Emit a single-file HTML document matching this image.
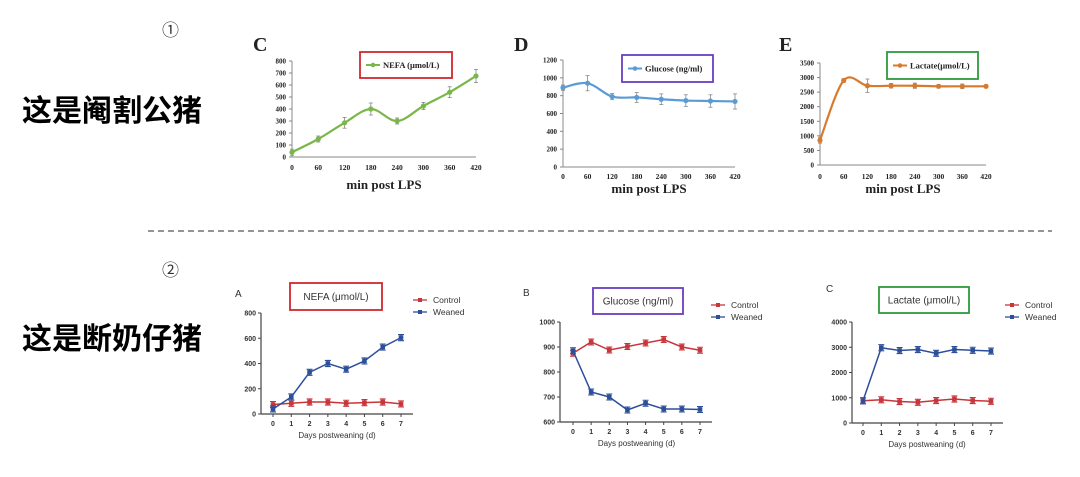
<!DOCTYPE html>
<html><head><meta charset="utf-8"><style>
html,body{margin:0;padding:0;background:#fff;}
body{width:1080px;height:477px;overflow:hidden;position:relative;}
.cn{position:absolute;font-family:"Liberation Sans","Noto Sans CJK SC",sans-serif;font-weight:bold;font-size:30px;line-height:34px;color:#000;}
.num{position:absolute;font-family:"Liberation Sans","Noto Sans CJK SC",sans-serif;font-size:17px;color:#333;}
</style></head><body>
<div class="num" style="left:162px;top:16px">①</div>
<div class="cn" style="left:22px;top:95px">这是阉割公猪</div>
<div class="num" style="left:162px;top:256px">②</div>
<div class="cn" style="left:22px;top:323px">这是断奶仔猪</div>
<svg id="svg" width="1080" height="477" style="position:absolute;left:0;top:0">
<line x1="148" y1="231" x2="1052" y2="231" stroke="#555" stroke-width="1.3" stroke-dasharray="6,4"/>
</svg>
<script>
// Top row data (min post LPS)
const lpsMinutes = [0,60,120,180,240,300,360,420];
const nefaLps = [40,150,285,400,300,425,540,675];
const nefaLpsErr = [25,25,45,50,25,30,45,55];
const glucoseLps = [890,940,790,780,760,745,740,735];
const glucoseLpsErr = [30,85,35,55,60,65,70,85];
const lactateLps = [850,2900,2720,2720,2720,2700,2700,2700];
const lactateLpsErr = [100,60,230,80,90,60,80,50];
const nefaLpsTicks = [0,100,200,300,400,500,600,700,800];
const glucoseLpsTicks = [0,200,400,600,800,1000,1200];
const lactateLpsTicks = [0,500,1000,1500,2000,2500,3000,3500];
// Bottom row data (days postweaning)
const days = [0,1,2,3,4,5,6,7];
const nefaControl = [75,85,95,95,85,90,95,80];
const nefaWeaned = [40,135,330,400,355,420,530,605];
const glucoseControl = [875,920,888,902,916,930,900,887];
const glucoseWeaned = [885,720,700,648,675,652,652,650];
const lactateControl = [880,920,850,820,890,950,890,860];
const lactateWeaned = [880,2980,2870,2910,2760,2910,2880,2850];
const nefaDayTicks = [0,200,400,600,800];
const glucoseDayTicks = [600,700,800,900,1000];
const lactateDayTicks = [0,1000,2000,3000,4000];

const NS='http://www.w3.org/2000/svg';
const svg=document.getElementById('svg');
function mk(tag,attrs,parent){const e=document.createElementNS(NS,tag);for(const k in attrs)e.setAttribute(k,attrs[k]);(parent||svg).appendChild(e);return e;}
function txt(x,y,s,attrs,parent){const t=mk('text',Object.assign({x:x,y:y},attrs),parent);t.textContent=s;return t;}

function lpsChart(name,xs,ys,errs,ticks,color,box){
  const g=mk('g',{});
  
  
  const x0=box.x0,x1=box.x1,yb=box.yb,yt=box.yt,ymax=ticks[ticks.length-1];
  const sx=v=>x0+(v-xs[0])/(xs[xs.length-1]-xs[0])*(x1-x0);
  const sy=v=>yb-v/ymax*(yb-yt);
  const serif={'font-family':'Liberation Serif, serif','font-weight':'bold',fill:'#222'};
  mk('line',{x1:x0,y1:yb,x2:x1,y2:yb,stroke:'#888','stroke-width':1},g);
  mk('line',{x1:x0,y1:yb,x2:x0,y2:yt,stroke:'#888','stroke-width':1},g);
  ticks.forEach(t=>{mk('line',{x1:x0-3,y1:sy(t),x2:x0,y2:sy(t),stroke:'#888'},g);
    const l=txt(x0-6,sy(t)+2.5,String(t),Object.assign({'font-size':7,'text-anchor':'end'},serif),g);
    });
  xs.forEach(v=>{const l=txt(sx(v),box.tl,String(v),Object.assign({'font-size':7.5,'text-anchor':'middle'},serif),g);
    });
  const xt=txt((x0+x1)/2,box.tt,'min post LPS',Object.assign({'font-size':13,'text-anchor':'middle'},serif),g);
  
  const pl=txt(box.lx,box.ly,box.letter,Object.assign({'font-size':20},serif),g);
  
  let d='M'+sx(xs[0])+','+sy(ys[0]);
  for(let i=0;i<xs.length-1;i++){
    const p0=[sx(xs[Math.max(i-1,0)]),sy(ys[Math.max(i-1,0)])],p1=[sx(xs[i]),sy(ys[i])],p2=[sx(xs[i+1]),sy(ys[i+1])],p3=[sx(xs[Math.min(i+2,xs.length-1)]),sy(ys[Math.min(i+2,xs.length-1)])];
    const c1=[p1[0]+(p2[0]-p0[0])/6,p1[1]+(p2[1]-p0[1])/6],c2=[p2[0]-(p3[0]-p1[0])/6,p2[1]-(p3[1]-p1[1])/6];
    d+=' C'+c1+' '+c2+' '+p2;
  }
  const ln=mk('path',{d:d,fill:'none',stroke:color,'stroke-width':2.2},g);
  
  xs.forEach((v,i)=>{
    const x=sx(v);
    mk('line',{x1:x,y1:sy(ys[i]-errs[i]),x2:x,y2:sy(ys[i]+errs[i]),stroke:'#888','stroke-width':0.8},g);
    mk('line',{x1:x-2,y1:sy(ys[i]-errs[i]),x2:x+2,y2:sy(ys[i]-errs[i]),stroke:'#888','stroke-width':0.8},g);
    mk('line',{x1:x-2,y1:sy(ys[i]+errs[i]),x2:x+2,y2:sy(ys[i]+errs[i]),stroke:'#888','stroke-width':0.8},g);
    const c=mk('circle',{cx:x,cy:sy(ys[i]),r:2.6,fill:color},g);
    
  });
  const lb=box.leg;
  const r=mk('rect',{x:lb[0],y:lb[1],width:lb[2],height:lb[3],fill:'#fff',stroke:box.bc,'stroke-width':1.8},g);
  
  const cy=lb[1]+lb[3]/2;
  mk('line',{x1:lb[0]+6,y1:cy,x2:lb[0]+20,y2:cy,stroke:color,'stroke-width':2},g);
  mk('circle',{cx:lb[0]+13,cy:cy,r:2.3,fill:color},g);
  const lt=txt(lb[0]+23,cy+3,box.label,Object.assign({'font-size':8.5},serif),g);
  
}

function dayChart(name,xs,c,w,ticks,box){
  const g=mk('g',{});
  
  
  const ymin=ticks[0],ymax=ticks[ticks.length-1];
  const sx=v=>box.x0+(v-xs[0])/(xs[xs.length-1]-xs[0])*(box.x1-box.x0);
  const sy=v=>box.yb-(v-ymin)/(ymax-ymin)*(box.yb-box.yt);
  const sans={'font-family':'Liberation Sans, sans-serif',fill:'#333'};
  mk('line',{x1:box.ax,y1:box.yb,x2:box.x1+12,y2:box.yb,stroke:'#444','stroke-width':1.2},g);
  mk('line',{x1:box.ax,y1:box.yb,x2:box.ax,y2:box.yt,stroke:'#444','stroke-width':1.2},g);
  ticks.forEach(t=>{mk('line',{x1:box.ax-3,y1:sy(t),x2:box.ax,y2:sy(t),stroke:'#444'},g);
    const l=txt(box.ax-5,sy(t)+2.5,String(t),Object.assign({'font-size':7,'text-anchor':'end','font-weight':'bold'},sans),g);
    });
  xs.forEach(v=>{mk('line',{x1:sx(v),y1:box.yb,x2:sx(v),y2:box.yb+3,stroke:'#444'},g);
    const l=txt(sx(v),box.yb+12,String(v),Object.assign({'font-size':7,'text-anchor':'middle','font-weight':'bold'},sans),g);
    });
  const xt=txt((box.x0+box.x1)/2,box.yb+24,'Days postweaning (d)',Object.assign({'font-size':8,'text-anchor':'middle'},sans),g);
  
  const pl=txt(box.lx,box.ly,box.letter,Object.assign({'font-size':10},sans),g);
  
  const err=(ymax-ymin)*0.03;
  [[c,'#c8353a','control'],[w,'#2d4f9a','weaned']].forEach(([ys,col,nm])=>{
    const p=mk('polyline',{points:xs.map((v,i)=>sx(v)+','+sy(ys[i])).join(' '),fill:'none',stroke:col,'stroke-width':1.5},g);
    
    xs.forEach((v,i)=>{const x=sx(v),y=sy(ys[i]);
      mk('path',{d:`M${x},${sy(ys[i]-err)}V${sy(ys[i]+err)}M${x-3},${sy(ys[i]-err)}h6M${x-3},${sy(ys[i]+err)}h6`,stroke:col,'stroke-width':1.1,fill:'none'},g);
      const r=mk('rect',{x:x-2.3,y:y-2.3,width:4.6,height:4.6,fill:col},g);
      });
  });
  const lb=box.leg;
  const rb=mk('rect',{x:lb[0],y:lb[1],width:lb[2],height:lb[3],fill:'#fff',stroke:box.bc,'stroke-width':1.8},g);
  
  const tt=txt(lb[0]+lb[2]/2,lb[1]+lb[3]/2+3.5,box.label,Object.assign({'font-size':10,'text-anchor':'middle'},sans),g);
  
  [['Control','#c8353a',0],['Weaned','#2d4f9a',12]].forEach(([s,col,dy])=>{
    const y=box.legY+dy;
    mk('line',{x1:box.legX-7,y1:y,x2:box.legX+7,y2:y,stroke:col,'stroke-width':1.3},g);
    mk('rect',{x:box.legX-2,y:y-2,width:4,height:4,fill:col},g);
    const l=txt(box.legX+13,y+3,s,Object.assign({'font-size':8.5},sans),g);
    
  });
}

lpsChart('nefa-lps',lpsMinutes,nefaLps,nefaLpsErr,nefaLpsTicks,'#7ab648',
 {x0:292,x1:476,yb:157,yt:61,tl:170,tt:189,lx:253,ly:51,letter:'C',leg:[360,52,92,26],bc:'#d0282e',label:'NEFA (μmol/L)'});
lpsChart('glucose-lps',lpsMinutes,glucoseLps,glucoseLpsErr,glucoseLpsTicks,'#5b9bd5',
 {x0:563,x1:735,yb:167,yt:60,tl:179,tt:193,lx:514,ly:51,letter:'D',leg:[622,55,91,27],bc:'#6a3ec0',label:'Glucose (ng/ml)'});
lpsChart('lactate-lps',lpsMinutes,lactateLps,lactateLpsErr,lactateLpsTicks,'#d87a2e',
 {x0:820,x1:986,yb:165,yt:63,tl:179,tt:193,lx:779,ly:51,letter:'E',leg:[887,52,91,27],bc:'#2e9a3c',label:'Lactate(μmol/L)'});

dayChart('nefa-days',days,nefaControl,nefaWeaned,nefaDayTicks,
 {x0:273,x1:401,yb:414,yt:313,ax:261,lx:235,ly:297,letter:'A',leg:[290,283,92,27],bc:'#d0282e',label:'NEFA (μmol/L)',legX:420,legY:300});
dayChart('glucose-days',days,glucoseControl,glucoseWeaned,glucoseDayTicks,
 {x0:573,x1:700,yb:422,yt:322,ax:560,lx:523,ly:296,letter:'B',leg:[593,288,90,26],bc:'#6a3ec0',label:'Glucose (ng/ml)',legX:718,legY:305});
dayChart('lactate-days',days,lactateControl,lactateWeaned,lactateDayTicks,
 {x0:863,x1:991,yb:423,yt:322,ax:852,lx:826,ly:292,letter:'C',leg:[879,287,90,26],bc:'#2e9a3c',label:'Lactate (μmol/L)',legX:1012,legY:305});
</script>
</body></html>
